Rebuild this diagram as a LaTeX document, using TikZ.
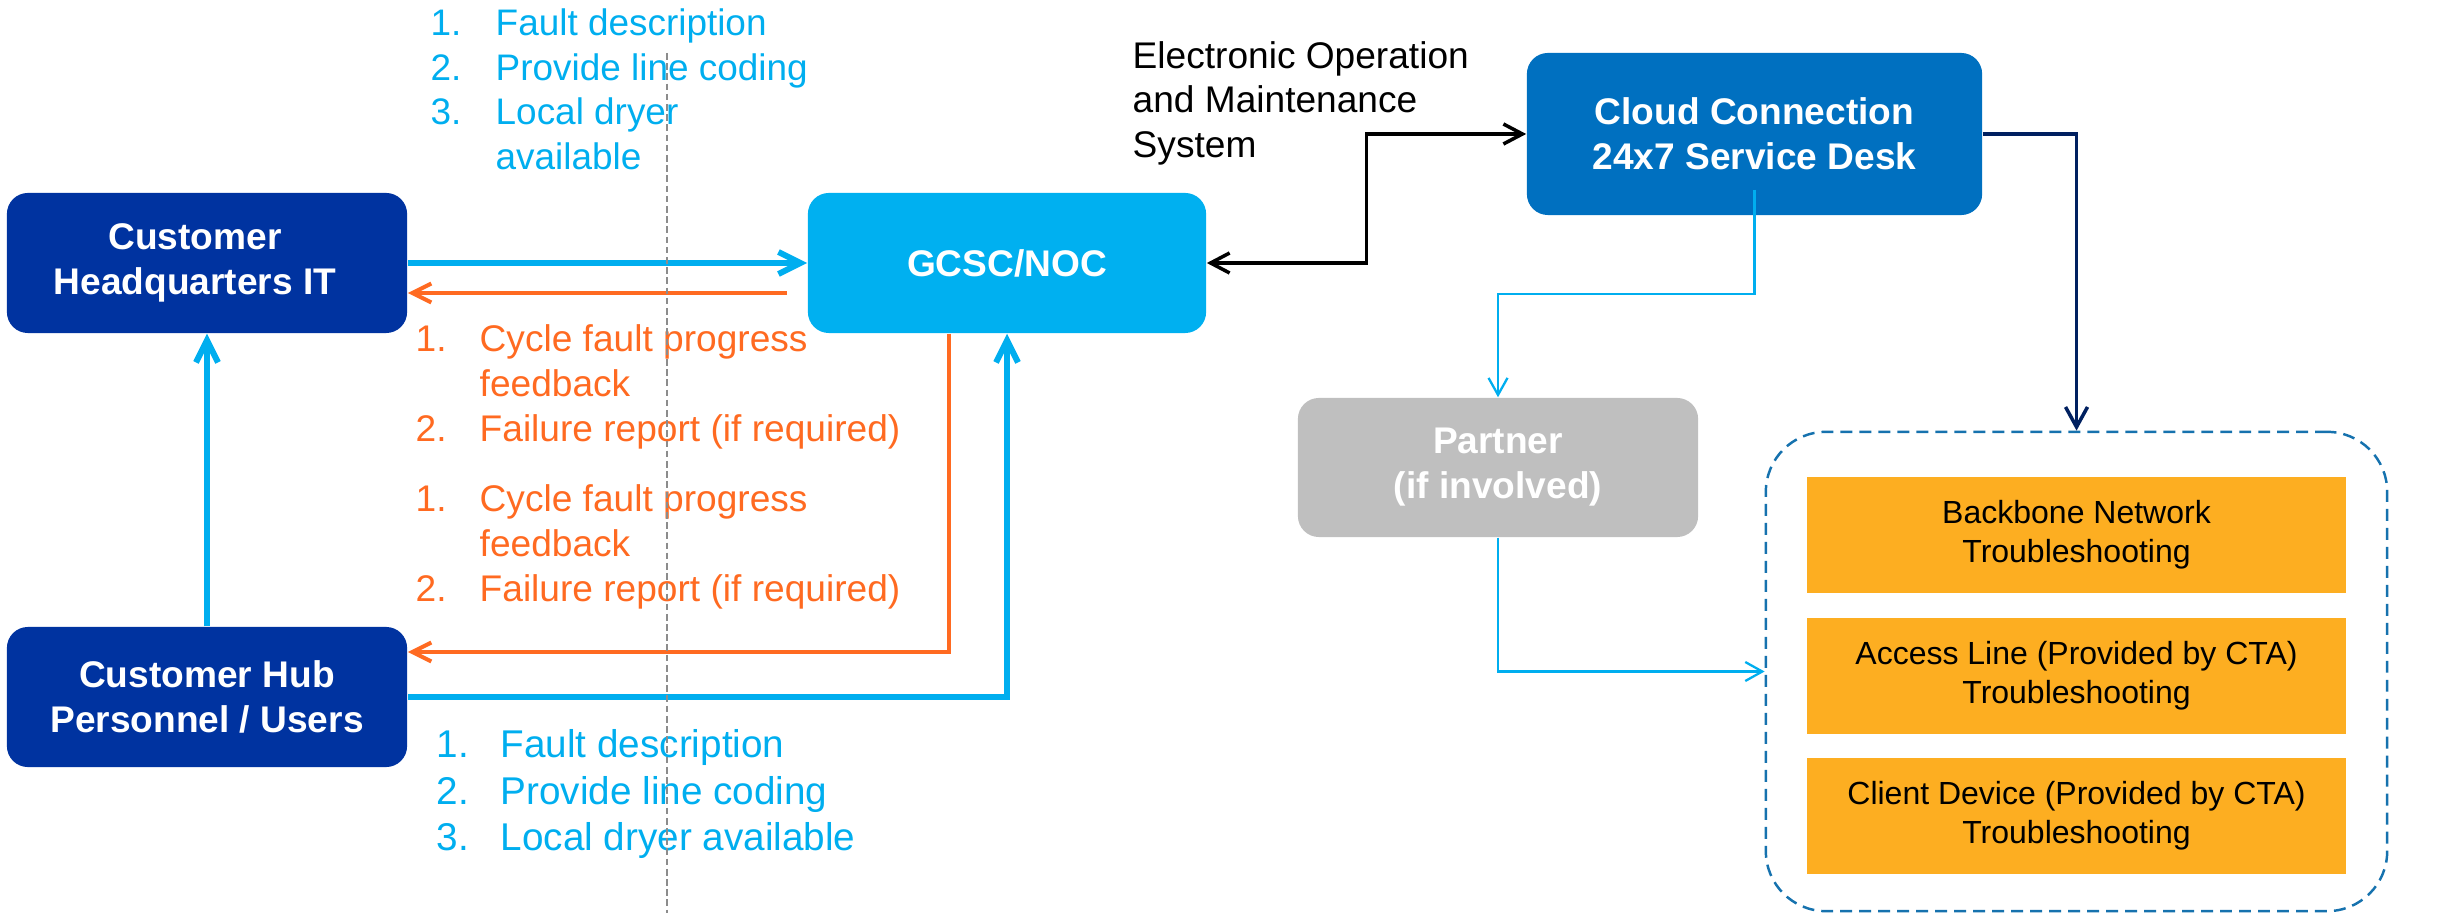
\documentclass[tikz,border=0pt]{standalone}
\usepackage{fontspec}
\setmainfont{Liberation Sans}
\usetikzlibrary{arrows.meta,calc}
\definecolor{hqblue}{HTML}{0033A0}
\definecolor{nocblue}{HTML}{00B0F0}
\definecolor{cloudblue}{HTML}{0070C0}
\definecolor{partnergray}{HTML}{BFBFBF}
\definecolor{ora}{HTML}{FF6A21}
\definecolor{lblue}{HTML}{00AEEF}
\definecolor{navy}{HTML}{002060}
\definecolor{gold}{HTML}{FDAE21}
\definecolor{contblue}{HTML}{1672AE}
\definecolor{dashgray}{HTML}{8C8C8C}
\begin{document}
\begin{tikzpicture}[x=0.01cm,y=-0.01cm,
  box/.style={rounded corners=0.21cm, text=white, align=center, inner sep=0,
    font=\bfseries\fontsize{10.55}{12.8}\selectfont},
  tbox/.style={fill=gold, align=center, inner sep=0, minimum width=5.39cm,
    minimum height=1.16cm, font=\fontsize{9.1}{11.1}\selectfont},
  bl/.style={anchor=base west, inner sep=0, text=lblue, font=\fontsize{10.5}{12.6}\selectfont},
  blb/.style={anchor=base west, inner sep=0, text=lblue, font=\fontsize{11}{13.2}\selectfont},
  ol/.style={anchor=base west, inner sep=0, text=ora, font=\fontsize{10.55}{12.7}\selectfont},
  kl/.style={anchor=base west, inner sep=0, text=black, font=\fontsize{10.55}{12.7}\selectfont},
  bluearr/.style={draw=lblue, line width=1.7pt, -{Straight Barb[length=2.2mm,width=2.2mm]}},
  orarr/.style={draw=ora, line width=1.15pt, -{Straight Barb[length=1.9mm,width=1.9mm]}},
  blkarr/.style={draw=black, line width=1pt, {Straight Barb[length=1.9mm,width=2mm]}-{Straight Barb[length=1.9mm,width=2mm]}},
  navyarr/.style={draw=navy, line width=1pt, -{Straight Barb[length=2mm,width=2.2mm]}},
  thinarr/.style={draw=lblue, line width=0.65pt, -{Straight Barb[length=1.7mm,width=1.9mm]}},
  graydash/.style={draw=dashgray, line width=0.4pt, dash pattern=on 1.9pt off 1pt}
]
\useasboundingbox (0,0) rectangle (2440,913);

% boxes
\node[box, fill=hqblue, minimum width=4cm, minimum height=1.40cm] (hq) at (207,263)
  {Customer\hspace*{0.24cm}\\Headquarters IT\hspace*{0.24cm}};
\node[box, fill=nocblue, minimum width=3.98cm, minimum height=1.40cm] (gcsc) at (1007,263) {GCSC/NOC};
\node[box, fill=hqblue, minimum width=4cm, minimum height=1.40cm] (hub) at (207,697) {Customer Hub\\Personnel / Users};
\node[box, fill=cloudblue, minimum width=4.55cm, minimum height=1.62cm] (cloud) at (1754.5,134) {Cloud Connection\\24x7 Service Desk};
\node[box, fill=partnergray, minimum width=4cm, minimum height=1.39cm] (partner) at (1498,467.5) {Partner\\(if involved)};

\node[draw=contblue, line width=0.7pt, dash pattern=on 3.4pt off 2pt, rounded corners=0.6cm,
  minimum width=6.21cm, minimum height=4.79cm, inner sep=0] (container) at (2076.5,671.5) {};
\node[tbox] (tb1) at (2076.5,535) {Backbone Network\\Troubleshooting};
\node[tbox] (tb2) at (2076.5,676) {Access Line (Provided by CTA)\\Troubleshooting};
\node[tbox] (tb3) at (2076.5,816) {Client Device (Provided by CTA)\\Troubleshooting};

% top blue list
\node[bl] (tn1) at (430,35.7) {1.};
\node[bl] (tt1) at (495,35.7) {Fault description};
\node[bl] (tn2) at (430,80.7) {2.};
\node[bl] (tt2) at (495,80.7) {Provide line coding};
\node[bl] (tn3) at (430,125) {3.};
\node[bl] (tt3) at (495,125) {Local dryer};
\node[bl] (tt4) at (495,169.3) {available};

% orange list 1
\node[ol] (on1) at (415,351.7) {1.};
\node[ol] (ot1) at (479,351.7) {Cycle fault progress};
\node[ol] (ot2) at (479,396.7) {feedback};
\node[ol] (on2) at (415,441.7) {2.};
\node[ol] (ot3) at (479,441.7) {Failure report (if required)};

% orange list 2
\node[ol] (pn1) at (415,511.7) {1.};
\node[ol] (pt1) at (479,511.7) {Cycle fault progress};
\node[ol] (pt2) at (479,556.7) {feedback};
\node[ol] (pn2) at (415,601.7) {2.};
\node[ol] (pt3) at (479,601.7) {Failure report (if required)};

% bottom blue list
\node[blb] (bn1) at (436,757.7) {1.};
\node[blb] (bt1) at (500,757.7) {Fault description};
\node[blb] (bn2) at (436,804) {2.};
\node[blb] (bt2) at (500,804) {Provide line coding};
\node[blb] (bn3) at (436,850.7) {3.};
\node[blb] (bt3) at (500,850.7) {Local dryer available};

% black label
\node[kl] (k1) at (1132,68.3) {Electronic Operation};
\node[kl] (k2) at (1132,112.7) {and Maintenance};
\node[kl] (k3) at (1132,157.3) {System};

% connectors
\draw[bluearr] (hq.east) -- (gcsc.west);
\draw[orarr, shorten <=0.2cm] ($(gcsc.west)+(0,30)$) -- ($(hq.east)+(0,30)$);
\draw[bluearr] (hub.north) -- (hq.south);
\draw[bluearr] (hub.east) -| (gcsc.south);
\draw[orarr] ($(gcsc.south)+(-58,0)$) |- ($(hub.east)+(0,-45)$);
\draw[blkarr] (gcsc.east) -| ($(gcsc.east)!.5!(cloud.west)$) |- (cloud.west);
\draw[navyarr] (cloud.east) -| (container.north);
\draw[thinarr] ($(cloud.south)+(0,-26)$) -- ($(cloud.south)+(0,78)$) -| (partner.north);
\draw[thinarr] (partner.south) |- (container.west);

% dashed divider
\coordinate (dtop) at (667,53);
\coordinate (dbot) at (667,913);
\draw[graydash] (dtop) -- (dbot);
\end{tikzpicture}
\end{document}
